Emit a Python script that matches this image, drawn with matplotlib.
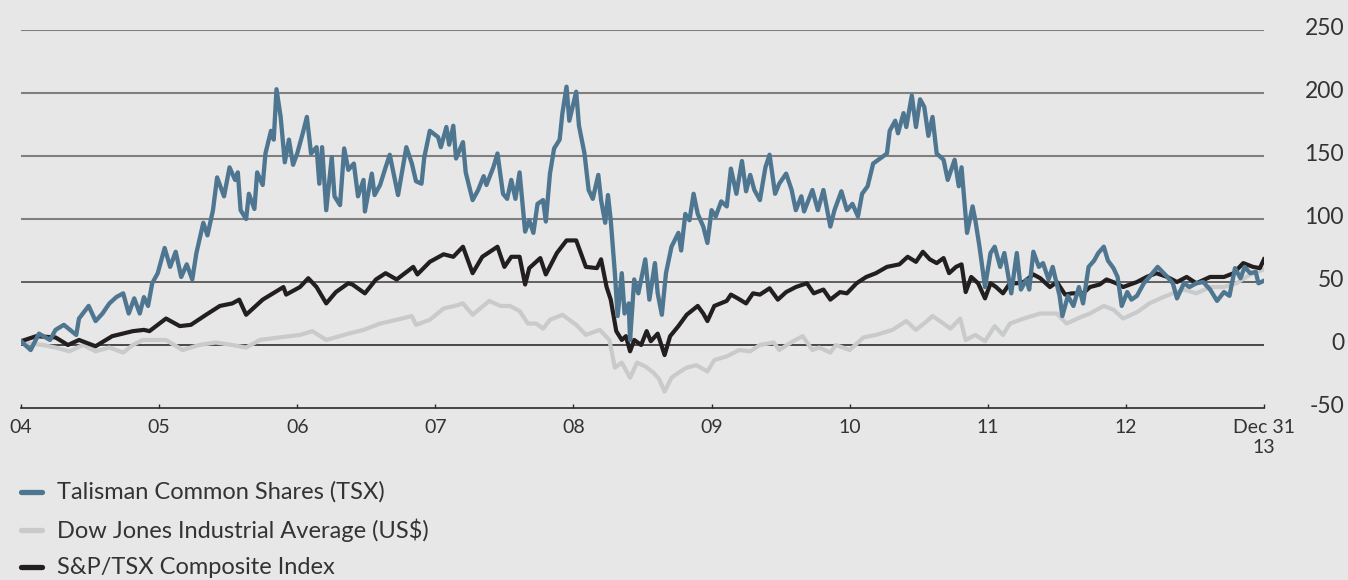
import numpy as np
import matplotlib.pyplot as plt
import matplotlib.transforms as mtrans
from matplotlib.lines import Line2D

###############################################################################
# Data: years since Dec 31 2003, % change from start
###############################################################################
tlm_t = [0.00, 0.07, 0.13, 0.21, 0.25, 0.31, 0.40, 0.42, 0.49, 0.54, 0.59, 0.64,
         0.69, 0.74, 0.78, 0.82, 0.86, 0.89, 0.92, 0.95, 0.99, 1.04, 1.08, 1.12,
         1.16, 1.20, 1.24, 1.27, 1.32, 1.35, 1.39, 1.42, 1.47, 1.51, 1.55, 1.57,
         1.59, 1.63, 1.65, 1.69, 1.71, 1.75, 1.77, 1.81, 1.83, 1.85, 1.88, 1.91,
         1.94, 1.97, 2.00, 2.04, 2.07, 2.10, 2.14, 2.16, 2.18, 2.21, 2.25, 2.27,
         2.31, 2.34, 2.37, 2.41, 2.44, 2.48, 2.49, 2.54, 2.56, 2.60, 2.64, 2.67,
         2.73, 2.79, 2.83, 2.86, 2.90, 2.92, 2.96, 3.02, 3.04, 3.08, 3.10, 3.13,
         3.15, 3.20, 3.22, 3.27, 3.31, 3.35, 3.37, 3.42, 3.45, 3.49, 3.52, 3.55,
         3.58, 3.61, 3.65, 3.68, 3.71, 3.74, 3.78, 3.80, 3.83, 3.86, 3.90, 3.92,
         3.95, 3.97, 4.00, 4.02, 4.04, 4.08, 4.11, 4.14, 4.18, 4.20, 4.23, 4.25,
         4.27, 4.30, 4.32, 4.35, 4.37, 4.40, 4.41, 4.44, 4.47, 4.52, 4.55, 4.59,
         4.61, 4.64, 4.67, 4.71, 4.76, 4.78, 4.81, 4.84, 4.87, 4.90, 4.94, 4.97,
         5.00, 5.03, 5.07, 5.11, 5.14, 5.18, 5.22, 5.25, 5.28, 5.31, 5.35, 5.39,
         5.42, 5.46, 5.49, 5.54, 5.58, 5.61, 5.65, 5.67, 5.73, 5.77, 5.81, 5.86,
         5.89, 5.94, 5.98, 6.02, 6.06, 6.09, 6.13, 6.17, 6.22, 6.27, 6.29, 6.33,
         6.35, 6.39, 6.41, 6.45, 6.48, 6.51, 6.54, 6.57, 6.60, 6.63, 6.68, 6.71,
         6.76, 6.79, 6.81, 6.85, 6.89, 6.91, 6.94, 6.98, 7.02, 7.05, 7.09, 7.12,
         7.17, 7.21, 7.24, 7.28, 7.30, 7.33, 7.37, 7.40, 7.44, 7.47, 7.50, 7.52,
         7.54, 7.58, 7.62, 7.66, 7.69, 7.73, 7.77, 7.80, 7.84, 7.87, 7.91, 7.94,
         7.97, 8.01, 8.04, 8.08, 8.13, 8.17, 8.23, 8.30, 8.34, 8.37, 8.42, 8.46,
         8.51, 8.56, 8.61, 8.66, 8.71, 8.75, 8.79, 8.83, 8.86, 8.90, 8.94, 8.96,
         9.00]
tlm_v = [3, -4, 9, 4, 12, 16, 8, 21, 31, 19, 25, 33,
         38, 41, 25, 37, 25, 38, 31, 49, 57, 77, 62, 74,
         54, 64, 52, 73, 97, 87, 107, 133, 118, 141, 131, 137,
         107, 100, 120, 108, 137, 127, 152, 170, 163, 203, 181, 145,
         163, 143, 152, 168, 181, 152, 157, 128, 157, 107, 149, 118,
         111, 156, 139, 144, 118, 131, 106, 136, 119, 127, 141, 151,
         119, 157, 144, 130, 128, 149, 170, 165, 157, 173, 159, 174,
         148, 161, 137, 115, 123, 134, 127, 141, 152, 120, 116, 131,
         116, 137, 90, 99, 89, 112, 115, 98, 136, 156, 163, 184,
         205, 178, 192, 201, 174, 152, 123, 116, 135, 115, 97, 119,
         99, 57, 23, 57, 25, 33, 4, 52, 41, 68, 36, 65,
         41, 24, 57, 78, 89, 75, 104, 99, 120, 104, 94, 81,
         107, 102, 114, 110, 140, 120, 146, 122, 135, 123, 115, 141,
         151, 120, 128, 136, 123, 107, 118, 106, 123, 107, 123, 94,
         107, 122, 107, 112, 102, 120, 126, 144, 148, 152, 170, 178,
         168, 184, 173, 198, 173, 195, 189, 166, 181, 152, 147, 131,
         147, 126, 141, 89, 110, 99, 78, 46, 73, 78, 62, 73,
         41, 73, 44, 52, 44, 74, 62, 65, 52, 62, 48, 39,
         23, 39, 31, 46, 33, 62, 67, 73, 78, 67, 61, 54,
         31, 42, 36, 39, 49, 54, 62, 54, 49, 37, 49, 46,
         49, 50, 44, 35, 42, 39, 61, 53, 62, 57, 58, 49,
         51]

tsx_t = [0.00, 0.11, 0.25, 0.34, 0.42, 0.54, 0.66, 0.81, 0.89, 0.93, 1.05, 1.15,
         1.23, 1.34, 1.44, 1.53, 1.58, 1.63, 1.75, 1.90, 1.92, 2.02, 2.08, 2.14,
         2.21, 2.28, 2.37, 2.40, 2.49, 2.57, 2.64, 2.72, 2.84, 2.87, 2.96, 3.06,
         3.13, 3.20, 3.27, 3.34, 3.45, 3.50, 3.55, 3.61, 3.65, 3.68, 3.76, 3.80,
         3.88, 3.95, 4.02, 4.09, 4.17, 4.20, 4.24, 4.27, 4.31, 4.35, 4.38, 4.41,
         4.44, 4.49, 4.53, 4.56, 4.61, 4.66, 4.70, 4.76, 4.82, 4.90, 4.94, 4.97,
         5.02, 5.11, 5.14, 5.19, 5.25, 5.30, 5.35, 5.42, 5.48, 5.54, 5.61, 5.69,
         5.74, 5.81, 5.86, 5.93, 5.98, 6.05, 6.12, 6.19, 6.27, 6.36, 6.42, 6.48,
         6.53, 6.58, 6.63, 6.68, 6.72, 6.77, 6.81, 6.84, 6.88, 6.93, 6.98, 7.02,
         7.06, 7.11, 7.16, 7.21, 7.26, 7.33, 7.38, 7.45, 7.50, 7.56, 7.61, 7.69,
         7.74, 7.81, 7.86, 7.93, 7.98, 8.08, 8.15, 8.22, 8.30, 8.37, 8.44, 8.51,
         8.61, 8.71, 8.78, 8.85, 8.92, 8.97, 9.00]
tsx_v = [3, 7, 6, 0, 4, -1, 7, 11, 12, 11, 21, 15,
         16, 24, 31, 33, 36, 24, 36, 46, 40, 46, 53, 46,
         33, 42, 49, 48, 41, 52, 57, 52, 62, 56, 66, 72,
         70, 78, 57, 70, 78, 62, 70, 70, 48, 61, 69, 56,
         73, 83, 83, 62, 61, 68, 46, 36, 11, 4, 7, -5,
         4, 0, 11, 3, 9, -8, 7, 15, 24, 31, 25, 19,
         31, 35, 40, 37, 33, 41, 40, 45, 36, 42, 46, 49,
         41, 44, 36, 42, 41, 49, 54, 57, 62, 64, 70, 66,
         74, 68, 65, 69, 57, 62, 64, 42, 54, 49, 37, 49,
         46, 41, 49, 49, 50, 56, 53, 46, 50, 40, 41, 41,
         46, 48, 52, 49, 46, 50, 54, 57, 54, 50, 54, 49,
         54, 54, 57, 65, 62, 61, 68]

djia_t = [0.00, 0.16, 0.25, 0.35, 0.45, 0.54, 0.64, 0.74, 0.81, 0.88, 1.05, 1.17,
          1.29, 1.41, 1.53, 1.63, 1.73, 1.87, 2.02, 2.11, 2.21, 2.37, 2.48, 2.60,
          2.72, 2.83, 2.86, 2.96, 3.06, 3.14, 3.20, 3.27, 3.39, 3.47, 3.54, 3.61,
          3.67, 3.73, 3.78, 3.83, 3.92, 4.02, 4.09, 4.19, 4.26, 4.30, 4.35, 4.41,
          4.46, 4.52, 4.58, 4.62, 4.66, 4.71, 4.76, 4.82, 4.89, 4.97, 5.02, 5.11,
          5.20, 5.28, 5.35, 5.45, 5.49, 5.59, 5.66, 5.73, 5.78, 5.86, 5.90, 6.00,
          6.10, 6.19, 6.31, 6.41, 6.48, 6.56, 6.60, 6.68, 6.73, 6.80, 6.84, 6.91,
          6.98, 7.05, 7.11, 7.16, 7.26, 7.38, 7.50, 7.57, 7.67, 7.74, 7.84, 7.91,
          7.98, 8.08, 8.17, 8.27, 8.34, 8.42, 8.51, 8.61, 8.71, 8.80, 8.90, 9.00]
djia_v = [2, 0, -2, -5, 0, -5, -2, -6, 0, 4, 4, -4,
          0, 2, 0, -2, 4, 6, 8, 11, 4, 9, 12, 17,
          20, 23, 16, 20, 29, 31, 33, 24, 35, 31, 31, 27,
          17, 17, 13, 20, 24, 16, 8, 12, 4, -18, -14, -26,
          -14, -17, -22, -27, -37, -26, -22, -18, -16, -21, -12, -9,
          -4, -5, 0, 2, -4, 3, 7, -4, -2, -6, 0, -4,
          6, 8, 12, 19, 12, 19, 23, 17, 13, 21, 4, 8,
          3, 15, 8, 17, 21, 25, 25, 17, 22, 25, 31, 28,
          21, 26, 33, 38, 41, 44, 41, 46, 46, 49, 56, 60]

LABELS = ['Talisman Common Shares (TSX)', 'Dow Jones Industrial Average (US$)',
          'S&P/TSX Composite Index']
YEARS = ['04', '05', '06', '07', '08', '09', '10', '11', '12', 'Dec 31\n13']
YTICKS = [-50, 0, 50, 100, 150, 200, 250]

###############################################################################
# Style
###############################################################################
BKG = '#e6e7e6'
C_TLM, C_DJ, C_TSX = '#4f7691', '#c9cacb', '#231f20'
TXT = '#333333'
FONT = ['Lato', 'DejaVu Sans']
plt.rcParams['font.family'] = FONT

(fig, ax) = plt.subplots(figsize=(13.48, 5.8), dpi=100)
fig.patch.set_facecolor(BKG)
ax.set_facecolor(BKG)
ax.set_position([21/1348, 1 - 408/580, (1264 - 21)/1348, (408 - 30)/580])

# grid lines
for lvl in [250, 200, 150, 100]:
    ax.axhline(lvl, color='#7f7f7f', lw=1.5, zorder=1)
ax.axhline(50, color='#3c3c3c', lw=1.1, zorder=1)
ax.axhline(0, color='#1e1e1e', lw=1.1, zorder=1)

ax.plot(djia_t, djia_v, color=C_DJ, lw=3.0, zorder=2, solid_joinstyle='round')
ax.plot(tsx_t, tsx_v, color=C_TSX, lw=3.0, zorder=3, solid_joinstyle='round')
ax.plot(tlm_t, tlm_v, color=C_TLM, lw=3.1, zorder=4, solid_joinstyle='round')

ax.set_xlim(0, 9)
ax.set_ylim(-50, 250)
for s in ['top', 'left', 'right']:
    ax.spines[s].set_visible(False)
ax.spines['bottom'].set_color('#2a2a2a')
ax.spines['bottom'].set_linewidth(1.2)

ax.set_xticks(range(len(YEARS)))
ax.set_xticklabels(YEARS, fontsize=14, color=TXT, linespacing=1.2)
ax.tick_params(axis='x', direction='in', length=3, width=1, color='#2a2a2a',
               pad=8)

# y labels, right aligned at the right edge of the figure
ax.set_yticks([])
trans = mtrans.blended_transform_factory(fig.transFigure, ax.transData)
for v in YTICKS:
    ax.text(1344/1348, v + 1.5, str(v), transform=trans, fontsize=16.5,
            color=TXT, ha='right', va='center', clip_on=False)

# legend
rows = [(492, C_TLM), (530, C_DJ), (567, C_TSX)]
for (lab, (yp, col)) in zip(LABELS, rows):
    yf = 1 - yp/580
    fig.add_artist(Line2D([21/1348, 42/1348], [yf, yf], color=col, lw=3.8,
                          solid_capstyle='round'))
    fig.text(57/1348, yf, lab, fontsize=17, color=TXT,
             va='center', ha='left')

fig.savefig('out.png', dpi=100, facecolor=BKG)
